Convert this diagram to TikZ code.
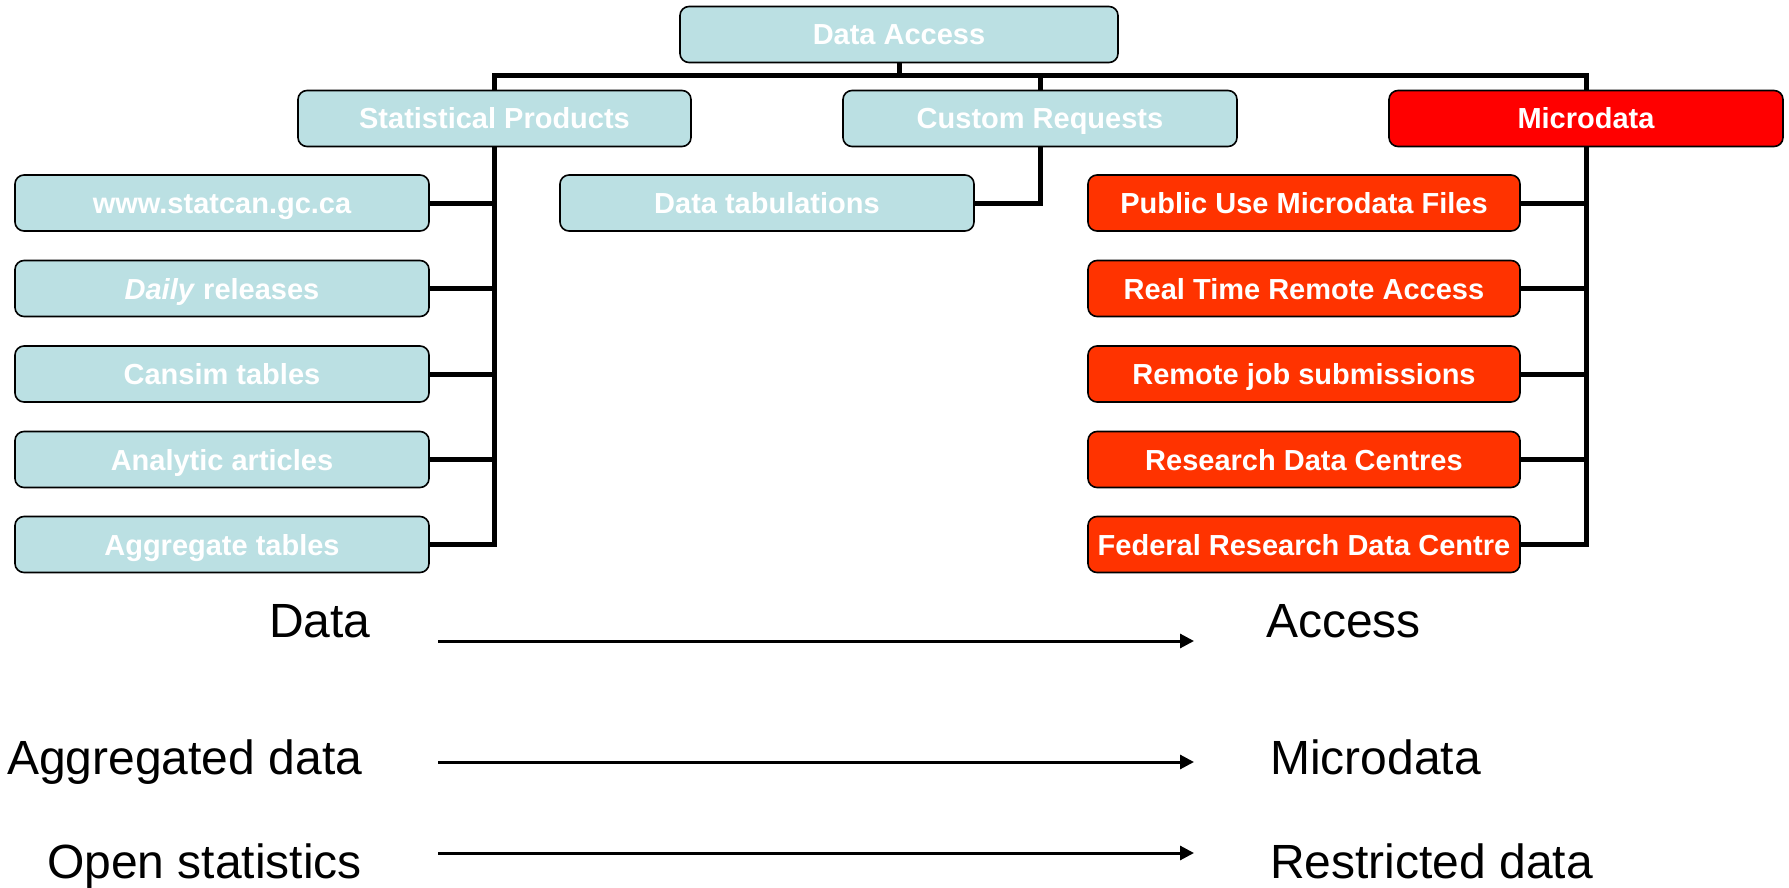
\documentclass[tikz,border=0pt]{standalone}
\usepackage{fontspec}
\setmainfont{Liberation Sans}
\usetikzlibrary{arrows.meta}
\definecolor{boxblue}{HTML}{BBE0E3}
\definecolor{mred}{HTML}{FF0000}
\definecolor{mora}{HTML}{FF3300}
\begin{document}
\begin{tikzpicture}[x=1pt,y=-1pt,
  box/.style={draw=black,line width=1.6pt,rounded corners=9pt,text=white,
    font=\bfseries\fontsize{29}{34}\selectfont,minimum height=56pt,inner sep=0pt,
    text height=21pt,text depth=0pt},
  bluebox/.style={box,fill=boxblue},
  redbox/.style={box,fill=mred},
  orabox/.style={box,fill=mora},
  conn/.style={line width=5pt,black},
  bigtxt/.style={font=\fontsize{48}{56}\selectfont,anchor=base west,inner sep=0pt},
  flow/.style={line width=3pt,-{Triangle[length=14pt,width=14pt]}}]
\useasboundingbox (0,0) rectangle (1789,888);
% top levels
\node[bluebox,minimum width=438pt] (da) at (899,34.5) {Data Access};
\node[bluebox,minimum width=393pt] (sp) at (494.5,118.5) {Statistical Products};
\node[bluebox,minimum width=394pt] (cr) at (1040,118.5) {Custom Requests};
\node[redbox,minimum width=394pt] (md) at (1586,118.5) {Microdata};
% left column
\node[bluebox,minimum width=414pt] (l1) at (222,203) {www.statcan.gc.ca};
\node[bluebox,minimum width=414pt] (l2) at (222,288.5) {\textit{Daily} releases};
\node[bluebox,minimum width=414pt] (l3) at (222,374) {Cansim tables};
\node[bluebox,minimum width=414pt] (l4) at (222,459.5) {Analytic articles};
\node[bluebox,minimum width=414pt] (l5) at (222,544.5) {Aggregate tables};
% middle
\node[bluebox,minimum width=414pt] (dt) at (767,203) {Data tabulations};
% right column
\node[orabox,minimum width=432pt] (r1) at (1304,203) {Public Use Microdata Files};
\node[orabox,minimum width=432pt] (r2) at (1304,288.5) {Real Time Remote Access};
\node[orabox,minimum width=432pt] (r3) at (1304,374) {Remote job submissions};
\node[orabox,minimum width=432pt] (r4) at (1304,459.5) {Research Data Centres};
\node[orabox,minimum width=432pt] (r5) at (1304,544.5) {Federal Research Data Centre};
% connectors
\coordinate (bus) at (0,76);
\draw[conn] (da.south) -- (da.south |- bus);
\draw[conn] (sp.north) -- (sp.north |- bus) -- (md.north |- bus) -- (md.north);
\draw[conn] (cr.north) -- (cr.north |- bus);
\draw[conn] (sp.south) |- (l5.east);
\foreach \i in {1,2,3,4} \draw[conn] (l\i.east) -- (l\i.east -| sp.south);
\draw[conn] (cr.south) |- (dt.east);
\draw[conn] (md.south) |- (r5.east);
\foreach \i in {1,2,3,4} \draw[conn] (r\i.east) -- (r\i.east -| md.south);
% bottom labels
\node[bigtxt] (t1a) at (269,637) {Data};
\node[bigtxt] (t1b) at (1266,637) {Access};
\node[bigtxt] (t2a) at (7,774) {Aggregated data};
\node[bigtxt] (t2b) at (1270,774) {Microdata};
\node[bigtxt] (t3a) at (47,878) {Open statistics};
\node[bigtxt] (t3b) at (1270,878) {Restricted data};
\coordinate (a1s) at (438,641); \coordinate (a1e) at (1194,641);
\coordinate (a2s) at (438,762); \coordinate (a2e) at (1194,762);
\coordinate (a3s) at (438,853); \coordinate (a3e) at (1194,853);
\draw[flow] (a1s) -- (a1e);
\draw[flow] (a2s) -- (a2e);
\draw[flow] (a3s) -- (a3e);
\end{tikzpicture}
\end{document}
